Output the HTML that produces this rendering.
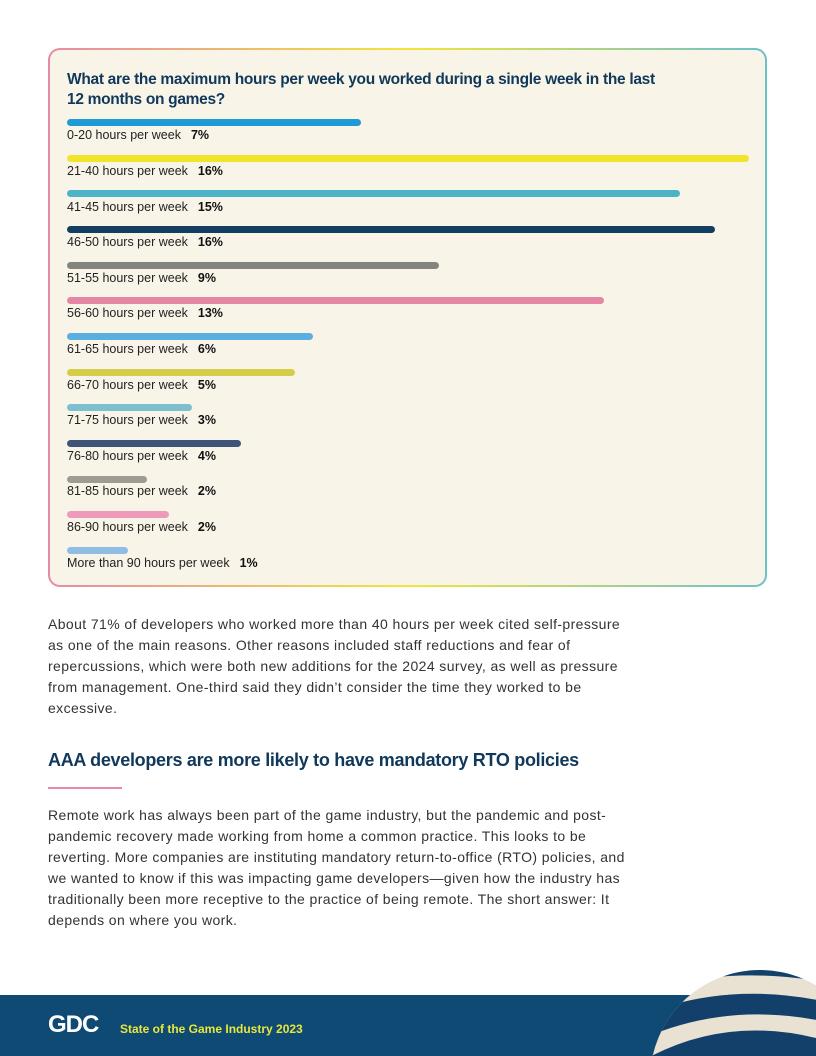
<!DOCTYPE html>
<html><head><meta charset="utf-8"><style>
html,body{margin:0;width:816px;height:1056px;overflow:hidden}
body{position:relative;background:#fff;font-family:"Liberation Sans",sans-serif}
.card{position:absolute;left:48px;top:48px;width:719px;height:539px;border-radius:12px;padding:2px;box-sizing:border-box;background:linear-gradient(90deg,#e68aa8,#f2e63a 50%,#6cc0cc)}
.inner{width:100%;height:100%;border-radius:10px;background:#f9f4e8;position:relative}
.t{position:absolute;left:17px;top:20px;font-weight:bold;font-size:15.5px;line-height:20px;color:#10385a;letter-spacing:-0.3px}
.bar{position:absolute;left:17px;height:7px;border-radius:4px}
.lab{position:absolute;left:17px;font-size:12.5px;color:#222}
.lab b{margin-left:10px;color:#111}
.p{position:absolute;left:48px;font-size:14px;line-height:21px;color:#333;font-family:"Liberation Sans",sans-serif;white-space:nowrap;letter-spacing:0.4px}
h2{position:absolute;left:48px;top:750px;margin:0;font-size:18px;color:#10385a;letter-spacing:-0.3px}
.foot{position:absolute;left:0;top:995px;width:816px;height:61px;background:#0f4a74}
</style></head><body>
<div class="card"><div class="inner">
<div class="t">What are the maximum hours per week you worked during a single week in the last<br>12 months on games?</div>
<div class="bar" style="top:69px;width:294px;background:#1e9ad6"></div><div class="lab" style="top:78px">0-20 hours per week<b>7%</b></div>
<div class="bar" style="top:105px;width:682px;background:#f1e52b"></div><div class="lab" style="top:114px">21-40 hours per week<b>16%</b></div>
<div class="bar" style="top:140px;width:613px;background:#4db3c6"></div><div class="lab" style="top:150px">41-45 hours per week<b>15%</b></div>
<div class="bar" style="top:176px;width:648px;background:#123e62"></div><div class="lab" style="top:185px">46-50 hours per week<b>16%</b></div>
<div class="bar" style="top:212px;width:372px;background:#858580"></div><div class="lab" style="top:221px">51-55 hours per week<b>9%</b></div>
<div class="bar" style="top:247px;width:537px;background:#e686a5"></div><div class="lab" style="top:256px">56-60 hours per week<b>13%</b></div>
<div class="bar" style="top:283px;width:246px;background:#5aaee0"></div><div class="lab" style="top:292px">61-65 hours per week<b>6%</b></div>
<div class="bar" style="top:319px;width:228px;background:#d5cc4a"></div><div class="lab" style="top:328px">66-70 hours per week<b>5%</b></div>
<div class="bar" style="top:354px;width:125px;background:#7cc0d0"></div><div class="lab" style="top:363px">71-75 hours per week<b>3%</b></div>
<div class="bar" style="top:390px;width:174px;background:#3e5478"></div><div class="lab" style="top:399px">76-80 hours per week<b>4%</b></div>
<div class="bar" style="top:426px;width:80px;background:#9e9a94"></div><div class="lab" style="top:434px">81-85 hours per week<b>2%</b></div>
<div class="bar" style="top:461px;width:102px;background:#ee9bbb"></div><div class="lab" style="top:470px">86-90 hours per week<b>2%</b></div>
<div class="bar" style="top:497px;width:61px;background:#90bde6"></div><div class="lab" style="top:506px">More than 90 hours per week<b>1%</b></div>
</div></div>
<div class="p" style="top:614px">About 71% of developers who worked more than 40 hours per week cited self-pressure<br>as one of the main reasons. Other reasons included staff reductions and fear of<br>repercussions, which were both new additions for the 2024 survey, as well as pressure<br>from management. One-third said they didn’t consider the time they worked to be<br>excessive.</div>
<h2>AAA developers are more likely to have mandatory RTO policies</h2>
<div style="position:absolute;left:48px;top:787px;width:74px;height:2px;background:#e68aa8"></div>
<div class="p" style="top:805px">Remote work has always been part of the game industry, but the pandemic and post-<br>pandemic recovery made working from home a common practice. This looks to be<br>reverting. More companies are instituting mandatory return-to-office (RTO) policies, and<br>we wanted to know if this was impacting game developers—given how the industry has<br>traditionally been more receptive to the practice of being remote. The short answer: It<br>depends on where you work.</div>
<div class="foot">
<div style="position:absolute;left:48px;top:16px;font-size:24px;font-weight:bold;color:#fff;letter-spacing:-1px">GDC</div>
<div style="position:absolute;left:120px;top:27px;font-size:12px;font-weight:bold;color:#e8e83a">State of the Game Industry 2023</div>
<div style="position:absolute;left:754px;top:28px;font-size:10px;color:#fff">26</div>
</div>
<svg style="position:absolute;left:620px;top:965px" width="196" height="91"><defs><clipPath id="c"><circle cx="140" cy="115" r="110"/></clipPath></defs>
<g clip-path="url(#c)"><rect x="0" y="0" width="260" height="230" fill="#e9e2d3"/>
<path d="M0 60 Q100 10 220 40 L220 60 Q100 30 0 85Z" fill="#13406a"/>
<path d="M0 110 Q100 40 220 80 L220 105 Q100 70 0 140Z" fill="#13406a"/>
<path d="M0 10 Q100 -20 220 5 L220 20 Q100 -5 0 35Z" fill="#13406a"/></g></svg>
</body></html>
